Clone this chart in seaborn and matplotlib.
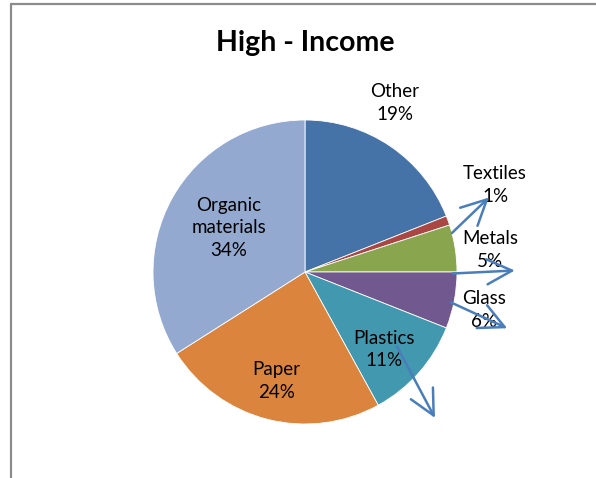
import matplotlib
matplotlib.use("Agg")
import matplotlib.pyplot as plt
from matplotlib.lines import Line2D
import seaborn as sns

# Waste composition, high-income countries (percent of total)
categories = ["Other", "Textiles", "Metals", "Glass", "Plastics", "Paper", "Organic\nmaterials"]
shares = [19, 1, 5, 6, 11, 24, 34]
colors = ["#4572A7", "#AA4643", "#89A54E", "#71588F", "#4198AF", "#DB843D", "#93A9CF"]
title = "High - Income"

# Label anchor points (pie units, centre at origin, radius 1)
label_xy = [(0.59, 1.11), (1.25, 0.57), (1.22, 0.145), (1.18, -0.25),
            (0.52, -0.51), (-0.19, -0.72), (-0.50, 0.29)]
# Callout arrows: (start, end) in pie units
arrow_pts = {
    "Textiles": ((0.967, 0.257), (1.21, 0.49)),
    "Metals": ((0.97, -0.01), (1.38, 0.01)),
    "Glass": ((0.96, -0.20), (1.33, -0.37)),
    "Plastics": ((0.605, -0.49), (0.855, -0.96)),
}

sns.set_theme(style="white")
plt.rcParams["font.family"] = ["Lato", "DejaVu Sans"]

W, H, DPI = 596, 478, 100
fig = plt.figure(figsize=(W / DPI, H / DPI), dpi=DPI)
ax = fig.add_axes([0, 0, 1, 1])

cx, cy, r = 305, 272, 152

ax.pie(shares, colors=colors, startangle=90, counterclock=False, radius=1,
       center=(0, 0), frame=True,
       wedgeprops=dict(edgecolor="white", linewidth=0.6))
ax.set_xlim(-cx / r, (W - cx) / r)
ax.set_ylim(-(H - cy) / r, cy / r)
ax.set_aspect("auto")
ax.set_axis_off()

for name, val, (x, y) in zip(categories, shares, label_xy):
    ax.text(x, y, f"{name}\n{val}%", ha="center", va="center",
            fontsize=13.5, color="#000000", linespacing=1.42)

for name, (start, end) in arrow_pts.items():
    ax.annotate("", xy=end, xytext=start,
                arrowprops=dict(arrowstyle="->,head_length=0.9,head_width=0.45",
                                color="#4A7EBB", lw=1.8, mutation_scale=20,
                                shrinkA=0, shrinkB=0))

fig.text(305 / W, 1 - 43 / H, title, ha="center", va="center",
         fontsize=20.5, fontweight="bold", color="#000000")

# Chart-area frame (left and top edges visible)
border = "#8C8C8C"
fig.add_artist(Line2D([10.5 / W, 10.5 / W], [0, 1 - 3.5 / H], color=border,
                      lw=1.6, transform=fig.transFigure))
fig.add_artist(Line2D([10.5 / W, 1], [1 - 3.5 / H, 1 - 3.5 / H], color=border,
                      lw=1.6, transform=fig.transFigure))

fig.savefig("out.png", dpi=DPI, facecolor="white")
